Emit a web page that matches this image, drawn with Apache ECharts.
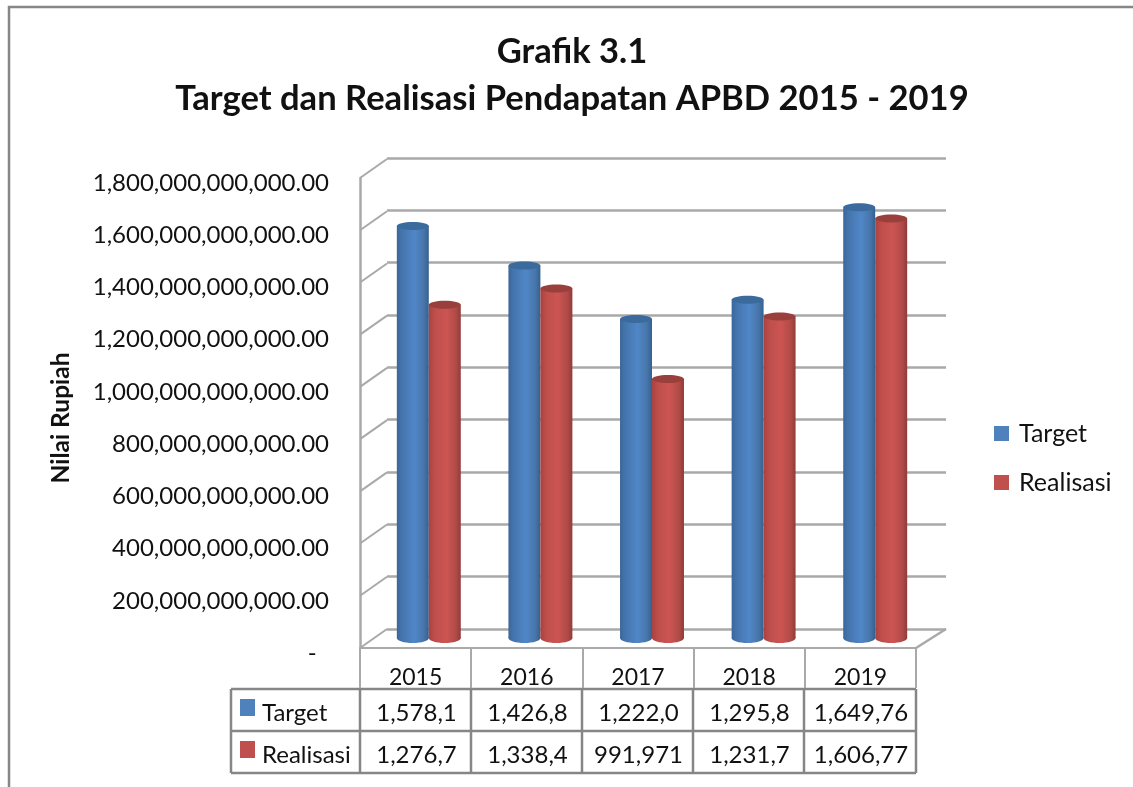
<!DOCTYPE html>
<html>
<head>
<meta charset="utf-8">
<title>Grafik 3.1</title>
<script src="https://cdn.jsdelivr.net/npm/echarts@6/dist/echarts.min.js"></script>
<style>
  html, body { margin: 0; padding: 0; background: #fff; }
  #chart { width: 1133px; height: 787px; }
</style>
</head>
<body>
<div id="chart"></div>
<script>
// data
var years = ['2015', '2016', '2017', '2018', '2019'];
var targetValues = [1578.1e9, 1426.8e9, 1222.0e9, 1295.8e9, 1649.76e9];
var realisasiValues = [1276.7e9, 1338.4e9, 991.971e9, 1231.7e9, 1606.77e9];
// the table in the original cuts the numbers off, keep them as printed
var targetLabels = ['1,578,1', '1,426,8', '1,222,0', '1,295,8', '1,649,76'];
var realisasiLabels = ['1,276,7', '1,338,4', '991,971', '1,231,7', '1,606,77'];
var tickValues = [0, 2e11, 4e11, 6e11, 8e11, 1e12, 1.2e12, 1.4e12, 1.6e12, 1.8e12];
var tickLabels = ['-  ', '200,000,000,000.00', '400,000,000,000.00', '600,000,000,000.00', '800,000,000,000.00',
  '1,000,000,000,000.00', '1,200,000,000,000.00', '1,400,000,000,000.00', '1,600,000,000,000.00', '1,800,000,000,000.00'];

var FONT = 'Lato';
var GRID_LINE = '#a9a9a9';
var TABLE_LINE = '#868686';
var BLUE = '#4f81bd';
var RED = '#c0504d';

// floor / wall depth
var DEPTH_X = 27, DEPTH_Y = -19;

function cylinder(side, stops, top) {
  return function (params, api) {
    var p = api.coord([api.value(0), api.value(1)]);
    var base = api.coord([api.value(0), 0]);
    var w = api.size([1, 0])[0] * 0.2865;
    var x = p[0] + (side < 0 ? -w : 0);
    var rx = w / 2, ry = 4;
    var fill = new echarts.graphic.LinearGradient(0, 0, 1, 0, stops);
    return {
      type: 'group',
      children: [
        { type: 'ellipse', shape: { cx: x + rx, cy: base[1], rx: rx, ry: ry + 1 }, style: { fill: fill } },
        { type: 'rect', shape: { x: x, y: p[1], width: w, height: base[1] - p[1] }, style: { fill: fill } },
        { type: 'ellipse', shape: { cx: x + rx, cy: p[1], rx: rx, ry: ry }, style: { fill: top } }
      ]
    };
  };
}

// slanted lines of the side wall, one for each tick
function wallLine(params, api) {
  var p = api.coord([0, api.value(0)]);
  var left = p[0] - api.size([1, 0])[0] / 2;
  return {
    type: 'line',
    shape: { x1: left, y1: p[1], x2: left + DEPTH_X, y2: p[1] + DEPTH_Y },
    style: { stroke: GRID_LINE, lineWidth: 2 }
  };
}

// data table under the chart
var colX = [360, 471, 582, 693, 804, 916];
var rowY = [689, 731, 773];
var tableLeft = 231;

function tableGraphic() {
  var els = [];
  rowY.forEach(function (y) {
    els.push({ type: 'line', shape: { x1: tableLeft, y1: y, x2: colX[5], y2: y }, style: { stroke: TABLE_LINE, lineWidth: 2.5 } });
  });
  [tableLeft].concat(colX).forEach(function (x) {
    els.push({ type: 'line', shape: { x1: x, y1: rowY[0], x2: x, y2: rowY[2] }, style: { stroke: TABLE_LINE, lineWidth: 2.5 } });
  });
  var rows = [
    { name: 'Target', color: BLUE, labels: targetLabels },
    { name: 'Realisasi', color: RED, labels: realisasiLabels }
  ];
  rows.forEach(function (row, r) {
    var cy = (rowY[r] + rowY[r + 1]) / 2;
    els.push({ type: 'rect', shape: { x: 240, y: cy - 11, width: 15, height: 17 }, style: { fill: row.color } });
    els.push({ type: 'text', x: 262, y: cy + 3, style: { text: row.name, font: '24px ' + FONT, fill: '#111', textVerticalAlign: 'middle' } });
    row.labels.forEach(function (t, i) {
      els.push({ type: 'text', x: (colX[i] + colX[i + 1]) / 2 + 1, y: cy + 3,
        style: { text: t, font: '24px ' + FONT, fill: '#111', textAlign: 'center', textVerticalAlign: 'middle' } });
    });
  });
  // outer frame of the chart area, it runs off the picture on the right and below
  els.push({ type: 'polyline', shape: { points: [[9, 787], [9, 7], [1133, 7]] }, style: { stroke: TABLE_LINE, fill: null, lineWidth: 2.5 } });
  return els;
}

var myChart = echarts.init(document.getElementById('chart'), null, { renderer: 'canvas' });

myChart.setOption({
  animation: false,
  backgroundColor: '#fff',
  textStyle: { fontFamily: FONT },
  title: {
    text: 'Grafik 3.1\nTarget dan Realisasi Pendapatan APBD 2015 - 2019',
    left: 567,
    top: 23,
    textAlign: 'center',
    textStyle: { fontFamily: FONT, fontSize: 34.6, fontWeight: 'bold', color: '#111', lineHeight: 47 }
  },
  legend: {
    orient: 'vertical',
    left: 994,
    top: 421,
    padding: 0,
    itemWidth: 15,
    itemHeight: 15,
    itemGap: 24,
    icon: 'rect',
    data: ['Target', 'Realisasi'],
    textStyle: { fontFamily: FONT, fontSize: 25, color: '#111', padding: [0, 0, 0, 5] }
  },
  grid: [
    // front plane: side line, years, floor edge
    { left: 360, top: 178, width: 556, height: 470 },
    // back wall: the gridlines
    { left: 387, top: 158, width: 559, height: 471 },
    // plane the cylinders stand on
    { left: 373, top: 168, width: 558, height: 470 },
    // value labels sit a little under their ticks in the original
    { left: 360, top: 183, width: 556, height: 470 }
  ],
  xAxis: [
    {
      type: 'category', gridIndex: 0, data: years,
      axisLine: { lineStyle: { color: GRID_LINE, width: 2 } },
      axisTick: { show: true, length: 40, lineStyle: { color: GRID_LINE, width: 2 } },
      axisLabel: { fontFamily: FONT, fontSize: 23, color: '#111', margin: 18 }
    },
    { type: 'category', gridIndex: 1, data: years, show: false },
    { type: 'category', gridIndex: 2, data: years, show: false },
    { type: 'category', gridIndex: 3, data: years, show: false }
  ],
  yAxis: [
    {
      type: 'value', gridIndex: 0, min: 0, max: 1.8e12, interval: 2e11,
      axisLine: { show: true, lineStyle: { color: GRID_LINE, width: 2.5 } },
      axisTick: { show: false }, axisLabel: { show: false }, splitLine: { show: false }
    },
    {
      type: 'value', gridIndex: 1, min: 0, max: 1.8e12, interval: 2e11,
      axisLine: { show: false }, axisTick: { show: false }, axisLabel: { show: false },
      splitLine: { show: true, lineStyle: { color: GRID_LINE, width: 2.5 } }
    },
    {
      type: 'value', gridIndex: 2, min: 0, max: 1.8e12, interval: 2e11,
      axisLine: { show: false }, axisTick: { show: false }, axisLabel: { show: false }, splitLine: { show: false }
    },
    {
      type: 'value', gridIndex: 3, min: 0, max: 1.8e12, interval: 2e11,
      name: 'Nilai Rupiah',
      nameLocation: 'middle',
      nameGap: 286,
      nameTextStyle: { fontFamily: FONT, fontSize: 24.5, fontWeight: 'bold', color: '#111' },
      axisLine: { show: false }, axisTick: { show: false }, splitLine: { show: false },
      axisLabel: {
        fontFamily: FONT, fontSize: 24, color: '#111', margin: 31,
        formatter: function (v) { return tickLabels[tickValues.indexOf(v)]; }
      }
    }
  ],
  series: [
    {
      type: 'custom', name: 'wall', xAxisIndex: 0, yAxisIndex: 0, silent: true, z: 1,
      renderItem: wallLine, data: tickValues.map(function (v) { return [v]; }),
      encode: { y: 0 }
    },
    {
      type: 'custom', name: 'floor', xAxisIndex: 0, yAxisIndex: 0, silent: true, z: 1,
      renderItem: function (params, api) {
        var p = api.coord([4, 0]);
        var half = api.size([1, 0])[0] / 2;
        return {
          type: 'line',
          shape: { x1: p[0] + half, y1: p[1], x2: p[0] + half + 30, y2: p[1] + DEPTH_Y },
          style: { stroke: GRID_LINE, lineWidth: 2.5 }
        };
      },
      data: [[4, 0]], encode: { x: 0, y: 1 }
    },
    {
      type: 'custom', name: 'Target', xAxisIndex: 2, yAxisIndex: 2, z: 3,
      itemStyle: { color: BLUE },
      renderItem: cylinder(-1, [
        { offset: 0, color: '#3a6799' },
        { offset: 0.14, color: '#4473ab' },
        { offset: 0.55, color: '#5087c8' },
        { offset: 0.85, color: '#4775a9' },
        { offset: 1, color: '#35608f' }
      ], '#3b6a9d'),
      data: targetValues.map(function (v, i) { return [i, v]; }),
      encode: { x: 0, y: 1 }
    },
    {
      type: 'custom', name: 'Realisasi', xAxisIndex: 2, yAxisIndex: 2, z: 4,
      itemStyle: { color: RED },
      renderItem: cylinder(1, [
        { offset: 0, color: '#a9423f' },
        { offset: 0.2, color: '#bf4f4c' },
        { offset: 0.55, color: '#cc5552' },
        { offset: 0.85, color: '#b04a47' },
        { offset: 1, color: '#8f3c39' }
      ], '#993f3c'),
      data: realisasiValues.map(function (v, i) { return [i, v]; }),
      encode: { x: 0, y: 1 }
    }
  ],
  graphic: { elements: tableGraphic() }
});
</script>
</body>
</html>
